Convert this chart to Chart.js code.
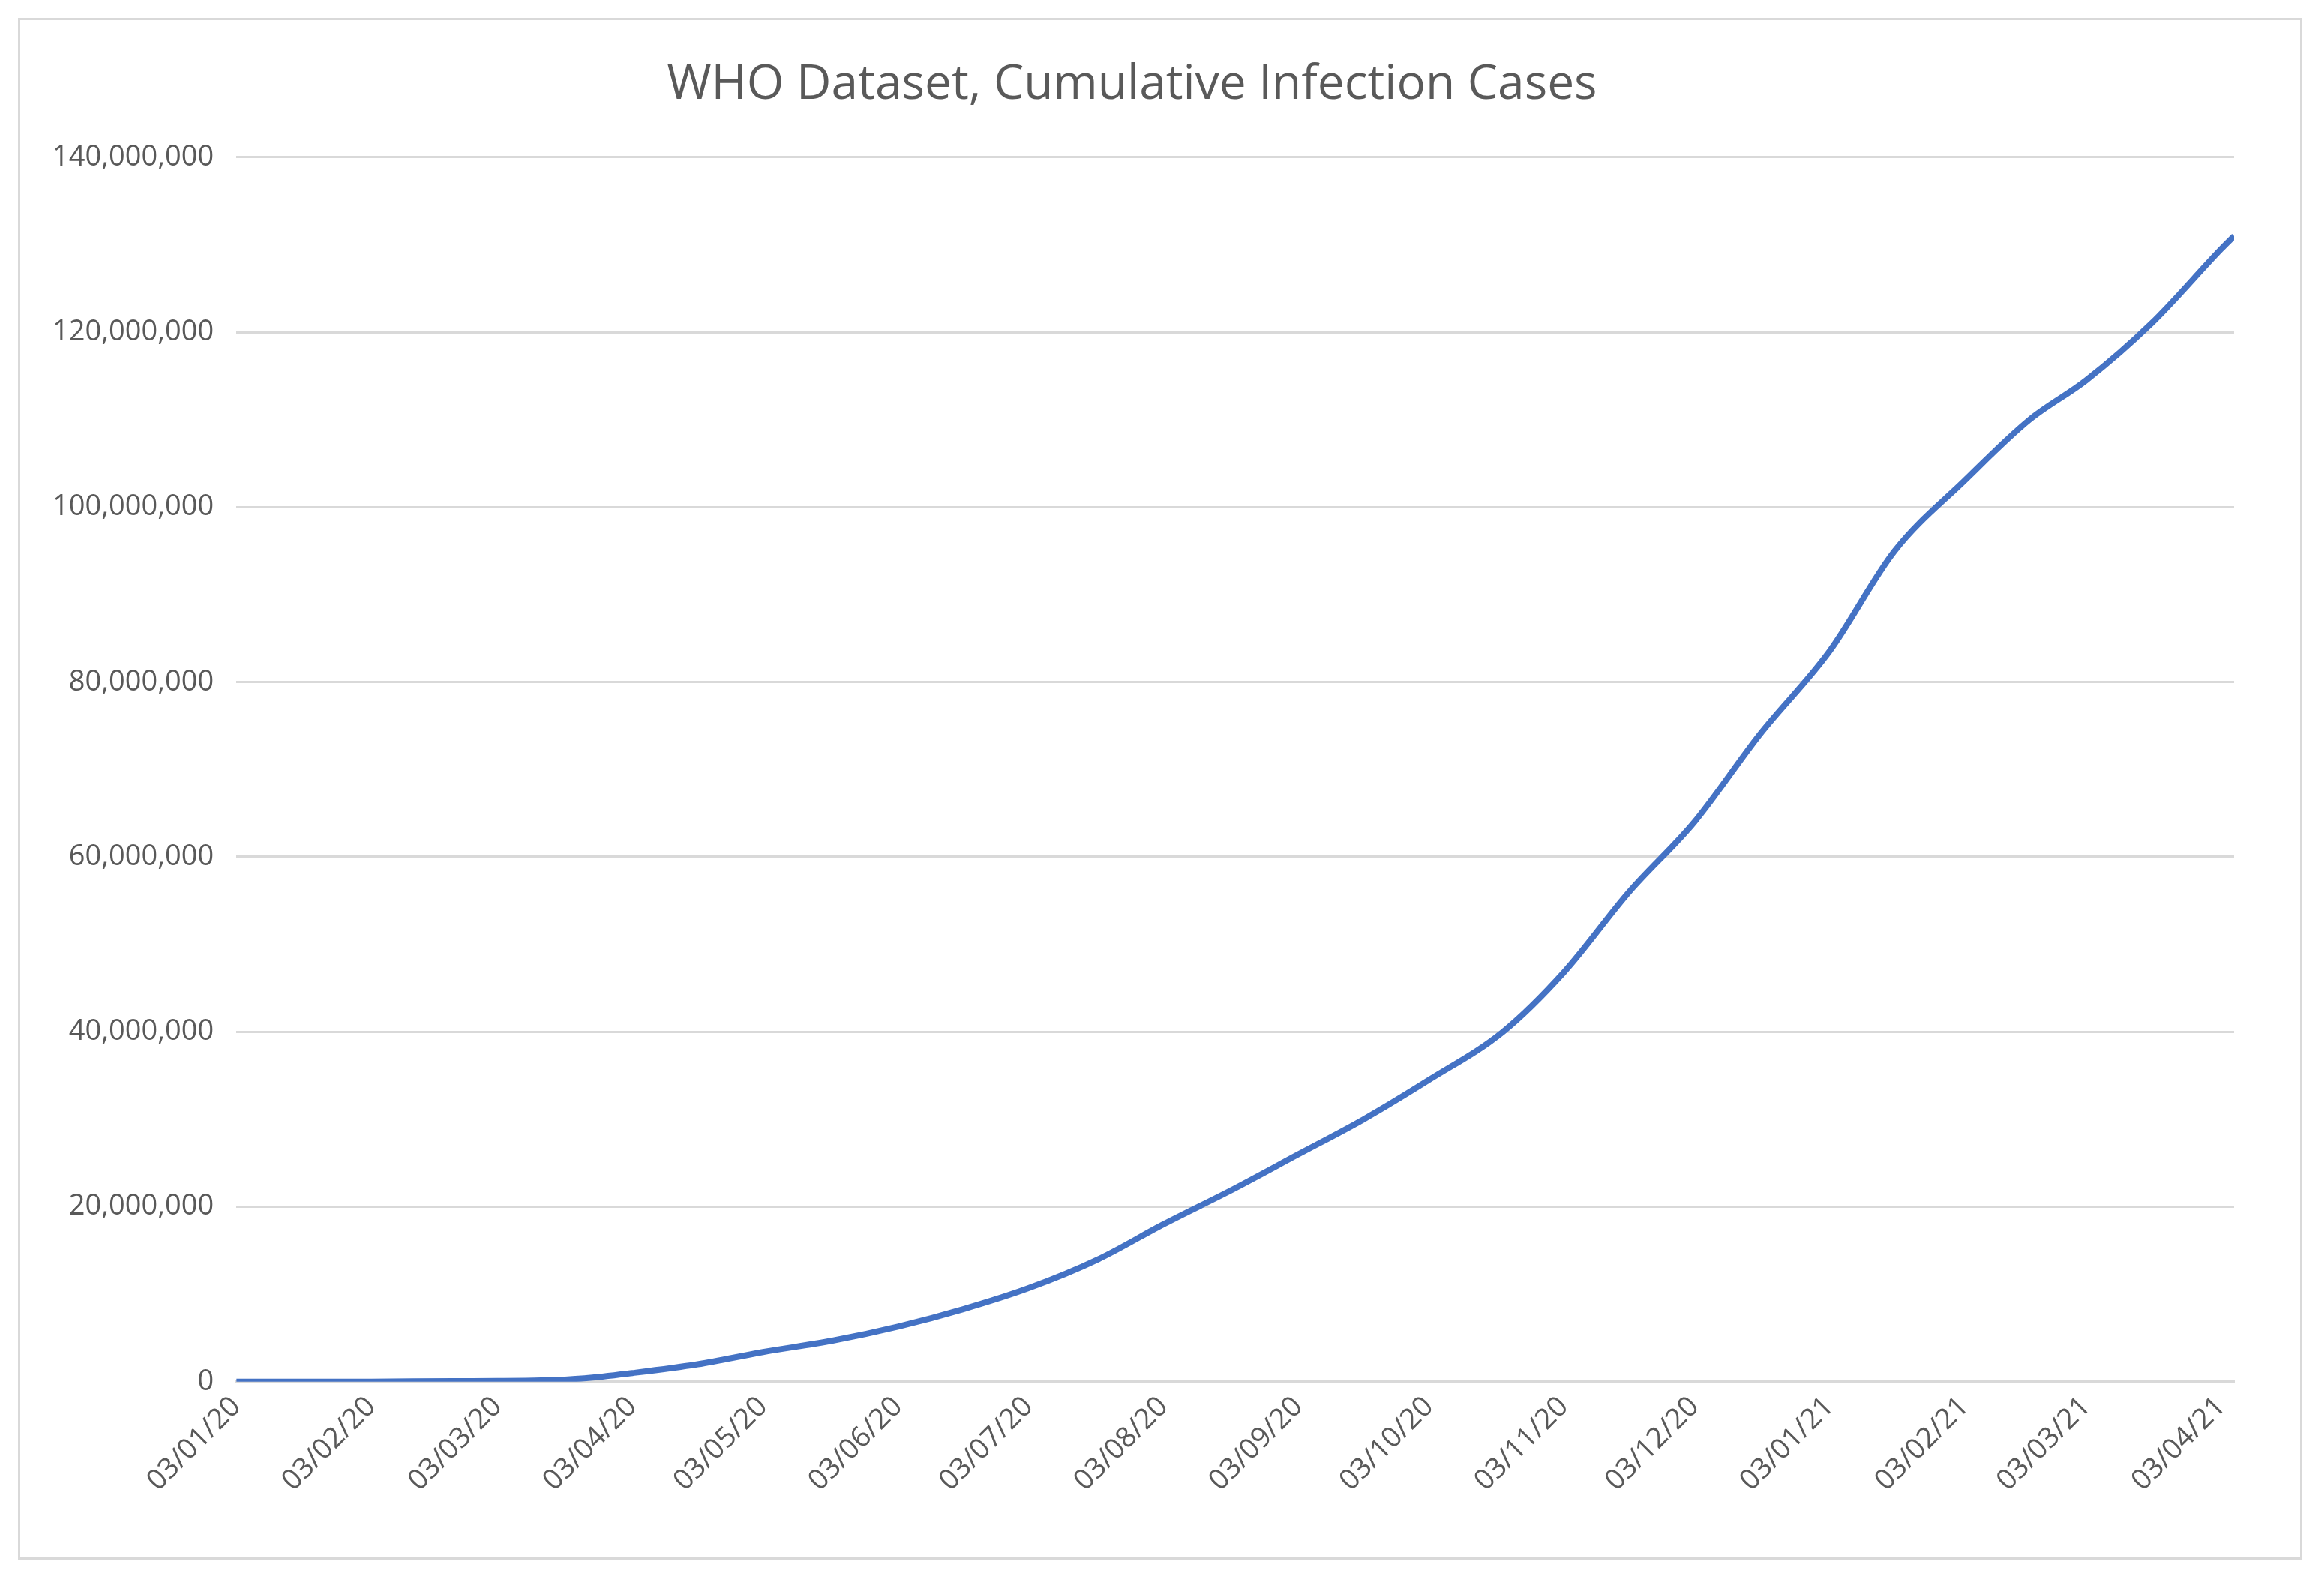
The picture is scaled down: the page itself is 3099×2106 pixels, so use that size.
<!DOCTYPE html>
<html>
<head>
<meta charset="utf-8">
<script src="https://cdn.jsdelivr.net/npm/chart.js@4"></script>
<style>
  html, body { margin: 0; padding: 0; background: #fff; }
  #frame { position: absolute; left: 24px; top: 24px; width: 3046px; height: 2056px; border: 3px solid #d9d9d9; box-sizing: border-box; }
  canvas { position: absolute; left: 0; top: 0; }
</style>
</head>
<body>
<div id="frame"></div>
<canvas id="chart" width="3099" height="2106"></canvas>
<script>
// 數據：距 2020-01-03 的天數，及累計感染數
const dayOffsets = [0, 31, 50, 60, 70, 80, 91, 106, 121, 137, 152, 167, 182, 198, 213, 229, 244, 259, 274, 291, 305, 320, 335, 350, 366, 381, 397, 412, 425, 440, 456, 459];
const cumulativeCases = [0, 17000, 80000, 90000, 150000, 400000, 1000000, 2000000, 3400000, 4700000, 6300000, 8300000, 10700000, 14000000, 18000000, 22000000, 26000000, 30000000, 34500000, 40000000, 46800000, 56000000, 64000000, 74000000, 83500000, 95000000, 103000000, 110000000, 114500000, 121000000, 129500000, 131000000];
const tickDays = [0, 31, 60, 91, 121, 152, 182, 213, 244, 274, 305, 335, 366, 397, 425, 456];

const startDate = Date.UTC(2020, 0, 3);
const fmtDay = (d) => {
  const dt = new Date(startDate + d * 86400000);
  const p = (n) => String(n).padStart(2, '0');
  return p(dt.getUTCDate()) + '/' + p(dt.getUTCMonth() + 1) + '/' + p(dt.getUTCFullYear() % 100);
};

const ctx = document.getElementById('chart').getContext('2d');
new Chart(ctx, {
  type: 'line',
  data: {
    datasets: [{
      data: dayOffsets.map((d, i) => ({ x: d, y: cumulativeCases[i] })),
      borderColor: '#4472C4',
      borderWidth: 8,
      pointRadius: 0,
      tension: 0.4,
      cubicInterpolationMode: 'monotone'
    }]
  },
  options: {
    responsive: false,
    animation: false,
    layout: { padding: { left: 40, right: 120, top: 75, bottom: 105 } },
    plugins: {
      legend: { display: false },
      tooltip: { enabled: false },
      title: {
        display: true,
        text: 'WHO Dataset, Cumulative Infection Cases',
        color: '#595959',
        font: { family: 'Open Sans', size: 64, weight: 'normal' },
        padding: { top: 0, bottom: 58 }
      }
    },
    scales: {
      x: {
        type: 'linear',
        min: 0,
        max: 459,
        afterBuildTicks: (axis) => { axis.ticks = tickDays.map(v => ({ value: v })); },
        ticks: {
          callback: (v) => fmtDay(v),
          color: '#595959',
          font: { family: 'Open Sans', size: 38 },
          maxRotation: 45,
          minRotation: 45,
          autoSkip: false
        },
        grid: { display: false, drawTicks: true },
        border: { color: '#d9d9d9', width: 3 }
      },
      y: {
        min: 0,
        max: 140000000,
        ticks: {
          stepSize: 20000000,
          callback: (v) => v.toLocaleString('en-US'),
          color: '#595959',
          font: { family: 'Open Sans', size: 38 },
          padding: 30
        },
        grid: { color: '#d9d9d9', lineWidth: 3, drawTicks: false },
        border: { display: false }
      }
    }
  }
});
</script>
</body>
</html>
